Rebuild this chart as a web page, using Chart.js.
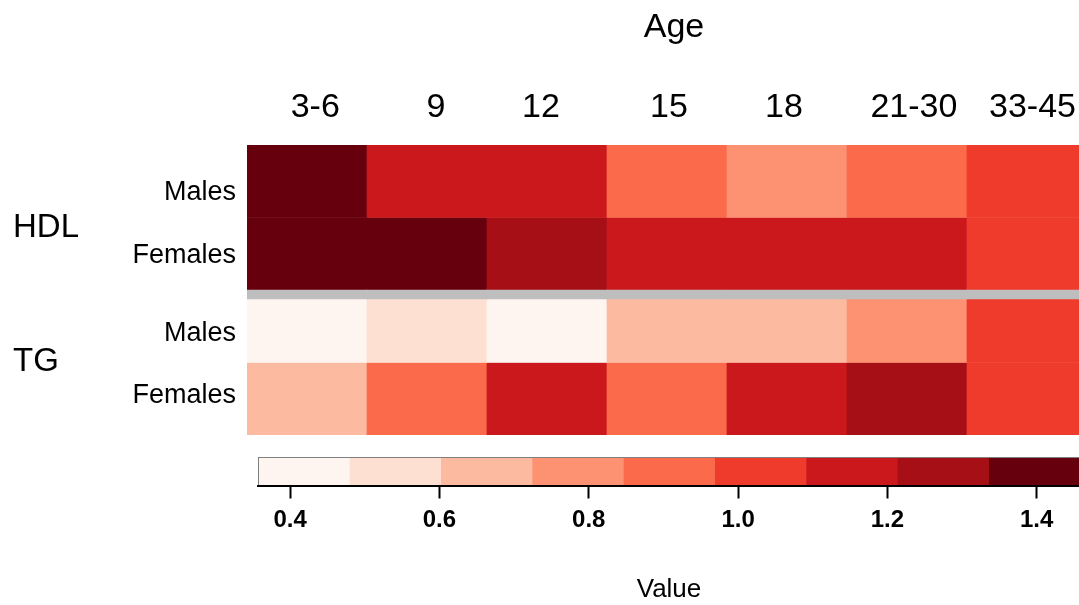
<!DOCTYPE html>
<html>
<head>
<meta charset="utf-8">
<title>HDL / TG by age</title>
<script src="https://cdn.jsdelivr.net/npm/chart.js@4.4.1/dist/chart.umd.min.js"></script>
<style>
    html, body { margin: 0; padding: 0; background: #fff; overflow: hidden; }
    #wrap { position: relative; width: 1079px; height: 605px; overflow: hidden; }
    canvas { position: absolute; left: 0; }
    #heat { top: 0; }
    #key { top: 440px; }
</style>
</head>
<body>
<div id="wrap">
    <canvas id="heat" width="1101" height="445"></canvas>
    <canvas id="key" width="1090" height="165"></canvas>
</div>
<script>
var ages = ['3-6', '9', '12', '15', '18', '21-30', '33-45'];
var groups = ['HDL', 'TG'];
var sexes = ['Males', 'Females'];

// one value per age column, rows top to bottom
var hdlMales   = [1.42, 1.16, 1.13, 0.92, 0.80, 0.91, 1.00];
var hdlFemales = [1.458, 1.40, 1.27, 1.18, 1.15, 1.12, 1.00];
var tgMales    = [0.357, 0.55, 0.42, 0.68, 0.70, 0.79, 1.00];
var tgFemales  = [0.66, 0.93, 1.17, 0.90, 1.20, 1.30, 1.00];

var keyTicks = [0.4, 0.6, 0.8, 1.0, 1.2, 1.4];

// RColorBrewer "Reds", 9 classes
var reds = ['#FFF5F0', '#FEE0D2', '#FCBBA1', '#FC9272', '#FB6A4A',
            '#EF3B2C', '#CB181D', '#A50F15', '#67000D'];

Chart.defaults.font.family = "'Liberation Sans', Arial, sans-serif";
Chart.defaults.color = '#000';

var rows = [hdlMales, hdlFemales, tgMales, tgFemales];
var all = [].concat.apply([], rows);
var vMin = Math.min.apply(null, all);
var vMax = Math.max.apply(null, all);
var binSize = (vMax - vMin) / reds.length;

function colorFor(v) {
    var i = Math.floor((v - vMin) / binSize);
    return reds[Math.max(0, Math.min(reds.length - 1, i))];
}

var barOpts = { borderWidth: 0, grouped: false, barPercentage: 1, categoryPercentage: 1 };

// x: column index, y runs 0..4 with one unit per row, top row first
var datasets = rows.map(function (row, r) {
    var top = rows.length - r;
    return Object.assign({
        data: row.map(function (v, i) { return { x: i, y: [top - 1, top] }; }),
        backgroundColor: row.map(colorFor)
    }, barOpts);
});

// grey separator between the HDL and TG blocks
datasets.push(Object.assign({
    data: ages.map(function (a, i) { return { x: i, y: [1.876, 2] }; }),
    backgroundColor: '#BEBEBE',
    order: -1
}, barOpts));

// where the text sits (in scale units)
var ageLabelPos = [0.069, 1.075, 1.95, 3.017, 3.975, 5.058, 6.046];
var sexLabelPos = [3.345, 2.469, 1.40, 0.538];
var groupLabelPos = [2.86, 1.01];
var xMax = 6.617;

function fixedTicks(pos) {
    return function (scale) {
        scale.ticks = pos.map(function (v) { return { value: v }; });
    };
}

function noPad(scale) {
    scale.paddingTop = 0;
    scale.paddingBottom = 0;
    scale.paddingLeft = 0;
    scale.paddingRight = 0;
}

new Chart(document.getElementById('heat').getContext('2d'), {
    type: 'bar',
    data: { datasets: datasets },
    options: {
        responsive: false,
        animation: false,
        layout: { padding: { left: 13, top: 0, right: 0, bottom: 10 } },
        plugins: { legend: { display: false }, tooltip: { enabled: false } },
        scales: {
            x: {
                type: 'linear',
                display: false,
                min: -0.5,
                max: xMax,
                offset: false,
                afterBuildTicks: fixedTicks([0, 1, 2, 3, 4, 5, 6])
            },
            xAge: {
                type: 'linear',
                position: 'top',
                min: -0.5,
                max: xMax,
                offset: false,
                grid: { display: false, drawTicks: false },
                border: { display: false },
                ticks: {
                    font: { size: 34 },
                    padding: 17,
                    maxRotation: 0,
                    autoSkip: false,
                    callback: function (v, i) { return ages[i]; }
                },
                afterBuildTicks: fixedTicks(ageLabelPos),
                title: { display: true, text: 'Age', font: { size: 34 }, padding: { top: 7, bottom: 22 } },
                afterFit: function (scale) { noPad(scale); scale.height = 145; }
            },
            y: {
                type: 'linear',
                position: 'left',
                weight: 0,
                min: 0,
                max: 4,
                grid: { display: false, drawTicks: false },
                border: { display: false },
                ticks: {
                    font: { size: 27 },
                    padding: 11,
                    callback: function (v, i) { return sexes[i % 2]; }
                },
                afterBuildTicks: fixedTicks(sexLabelPos),
                afterFit: function (scale) { noPad(scale); scale.width = 134; }
            },
            yGroup: {
                type: 'linear',
                position: 'left',
                weight: 10,
                min: 0,
                max: 4,
                grid: { display: false, drawTicks: false },
                border: { display: false },
                ticks: {
                    font: { size: 33 },
                    padding: 0,
                    crossAlign: 'far',
                    callback: function (v, i) { return groups[i]; }
                },
                afterBuildTicks: fixedTicks(groupLabelPos),
                afterFit: function (scale) { noPad(scale); scale.width = 100; }
            }
        }
    }
});

// colour key
var keyData = reds.map(function (c, i) {
    return Object.assign({
        data: [[vMin + i * binSize, vMin + (i + 1) * binSize]],
        backgroundColor: c
    }, barOpts);
});

var keyFrame = {
    id: 'keyFrame',
    afterDatasetsDraw: function (chart) {
        var a = chart.chartArea;
        var ctx = chart.ctx;
        ctx.save();
        ctx.strokeStyle = '#808080';
        ctx.lineWidth = 1;
        ctx.strokeRect(a.left + 0.5, a.top + 0.5, a.right - a.left, a.bottom - a.top);
        ctx.restore();
    }
};

new Chart(document.getElementById('key').getContext('2d'), {
    type: 'bar',
    data: { labels: [''], datasets: keyData },
    plugins: [keyFrame],
    options: {
        indexAxis: 'y',
        responsive: false,
        animation: false,
        layout: { padding: { left: 258, top: 17, right: 10, bottom: 0 } },
        plugins: { legend: { display: false }, tooltip: { enabled: false } },
        scales: {
            x: {
                type: 'linear',
                min: vMin,
                max: vMax,
                grid: { drawOnChartArea: false, tickLength: 13, tickColor: '#000', tickWidth: 2 },
                border: { color: '#000', width: 2, z: 1 },
                ticks: {
                    font: { size: 24, weight: 'bold' },
                    padding: 7,
                    callback: function (v) { return v.toFixed(1); }
                },
                afterBuildTicks: fixedTicks(keyTicks),
                title: { display: true, text: 'Value', font: { size: 26 }, padding: { top: 0, bottom: 0 } },
                afterFit: function (scale) { noPad(scale); scale.height = 119.5; }
            },
            y: { display: false }
        }
    }
});
</script>
</body>
</html>
